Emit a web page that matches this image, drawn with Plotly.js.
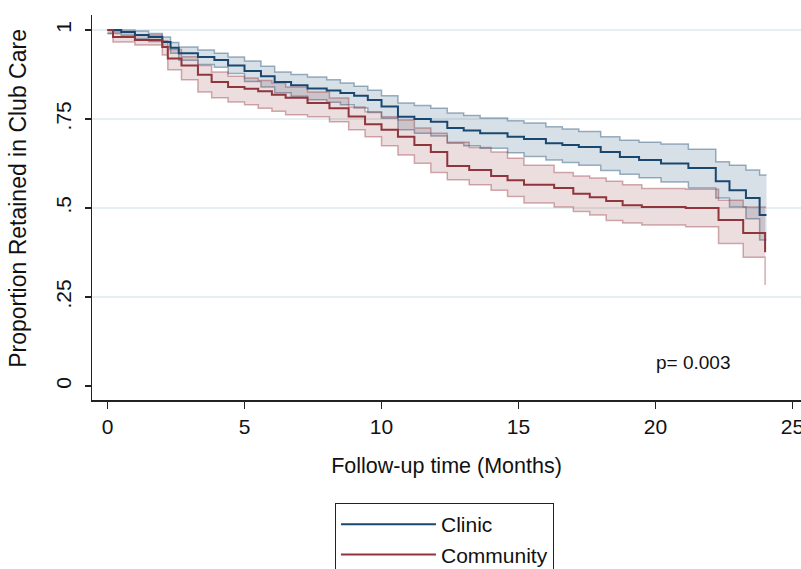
<!DOCTYPE html>
<html>
<head>
<meta charset="utf-8">
<script src="https://cdn.plot.ly/plotly-3.0.1.min.js"></script>
<style>html,body{margin:0;padding:0;background:#fff;}#chart{width:801px;height:569px;}</style>
</head>
<body>
<div id="chart"></div>
<script>
// ---- Data ----
const clinicTime = [0,0.5,1,1.5,2,2.3,2.6,3.3,3.9,4.4,5,5.6,6.1,6.7,7.3,8,8.5,9,9.5,10,10.6,11.2,11.8,12.4,13,13.6,14.6,15.2,16,16.6,17.2,18,18.7,19.4,20.2,21.2,22.2,22.7,23.3,23.8,24.05];
const clinicEst = [1.0,0.994,0.986,0.98,0.966,0.95,0.935,0.924,0.916,0.90,0.885,0.87,0.854,0.845,0.836,0.83,0.823,0.815,0.803,0.785,0.756,0.75,0.742,0.725,0.718,0.71,0.70,0.694,0.682,0.677,0.671,0.657,0.643,0.635,0.625,0.612,0.575,0.55,0.528,0.48,0.48];
const clinicUpper = [1.0,1.0,0.997,0.99,0.98,0.965,0.952,0.944,0.935,0.924,0.913,0.898,0.882,0.875,0.868,0.86,0.851,0.842,0.831,0.815,0.795,0.788,0.78,0.767,0.76,0.753,0.745,0.739,0.728,0.722,0.715,0.70,0.69,0.685,0.68,0.665,0.63,0.62,0.607,0.593,0.593];
const clinicLower = [0.99,0.985,0.975,0.968,0.952,0.935,0.915,0.903,0.895,0.878,0.855,0.84,0.824,0.814,0.804,0.797,0.79,0.781,0.768,0.752,0.72,0.71,0.702,0.682,0.675,0.668,0.655,0.645,0.635,0.628,0.62,0.605,0.595,0.585,0.573,0.556,0.528,0.503,0.47,0.41,0.41];

const communityTime = [0,0.2,1,2,2.2,2.7,3.3,3.8,4.4,5,5.5,6,6.5,7.3,8.1,8.8,9.4,10,10.6,11.2,11.8,12.4,13.2,14,14.6,15.2,16.3,17,17.6,18.2,18.8,19.5,21.1,22.3,23.2,24];
const communityEst = [1.0,0.98,0.972,0.952,0.92,0.90,0.874,0.854,0.84,0.835,0.828,0.818,0.81,0.795,0.78,0.757,0.735,0.72,0.70,0.677,0.657,0.618,0.607,0.59,0.578,0.565,0.556,0.54,0.53,0.52,0.508,0.503,0.50,0.466,0.43,0.376];
const communityUpper = [1.0,0.995,0.986,0.97,0.945,0.925,0.90,0.882,0.87,0.865,0.858,0.851,0.84,0.826,0.809,0.784,0.77,0.756,0.747,0.725,0.71,0.685,0.67,0.657,0.64,0.62,0.60,0.59,0.584,0.575,0.565,0.555,0.553,0.522,0.503,0.50];
const communityLower = [0.99,0.966,0.958,0.93,0.888,0.86,0.826,0.81,0.798,0.79,0.78,0.772,0.762,0.756,0.742,0.72,0.70,0.675,0.649,0.626,0.60,0.579,0.565,0.55,0.532,0.514,0.503,0.49,0.48,0.465,0.458,0.452,0.447,0.40,0.362,0.284];

const groupNames = ["Clinic","Community"];
const xTickVals = [0,5,10,15,20,25];
const xTickText = ["0","5","10","15","20","25"];
const yTickVals = [0,0.25,0.5,0.75,1];
const yTickText = ["0",".25",".5",".75","1"];
const xTitle = "Follow-up time (Months)";
const yTitle = "Proportion Retained in Club Care";
const pValueText = "p= 0.003";

// ---- Styles ----
const FONT = "Liberation Sans, Arial, sans-serif";
const clinicColor = "#1a476f", clinicBand = "rgba(26,71,111,0.17)", clinicEdge = "rgba(26,71,111,0.42)";
const commColor = "#90353b", commBand = "rgba(144,53,59,0.17)", commEdge = "rgba(144,53,59,0.40)";

function band(t, up, lo, fill, edge) {
  return [
    {x:t, y:up, type:"scatter", mode:"lines", line:{shape:"hv", color:edge, width:1.5}, showlegend:false, hoverinfo:"skip"},
    {x:t, y:lo, type:"scatter", mode:"lines", line:{shape:"hv", color:edge, width:1.5}, fill:"tonexty", fillcolor:fill, showlegend:false, hoverinfo:"skip"}
  ];
}

const data = [
  ...band(clinicTime, clinicUpper, clinicLower, clinicBand, clinicEdge),
  ...band(communityTime, communityUpper, communityLower, commBand, commEdge),
  {x:clinicTime, y:clinicEst, type:"scatter", mode:"lines", name:groupNames[0], line:{shape:"hv", color:clinicColor, width:2}},
  {x:communityTime, y:communityEst, type:"scatter", mode:"lines", name:groupNames[1], line:{shape:"hv", color:commColor, width:2}}
];

const layout = {
  width:801, height:569,
  margin:{l:92, r:0, t:15, b:169, autoexpand:false},
  paper_bgcolor:"#fff", plot_bgcolor:"#fff",
  font:{family:FONT, size:21, color:"#111"},
  xaxis:{
    range:[-0.566, 25.31], tickvals:xTickVals, ticktext:xTickText,
    ticks:"outside", ticklen:7, tickwidth:1.5, tickcolor:"#222",
    showline:true, linecolor:"#222", linewidth:1.5, showgrid:false, zeroline:false,
    ticklabeloverflow:"allow",
    tickfont:{size:21}, title:{text:xTitle, font:{size:21.5}, standoff:21}
  },
  yaxis:{
    range:[-0.0393, 1.0421], tickvals:yTickVals, ticktext:yTickText, tickangle:-90,
    ticks:"outside", ticklen:6, tickwidth:1.5, tickcolor:"#222",
    showline:true, linecolor:"#222", linewidth:1.5,
    showgrid:true, gridcolor:"#e6eff1", gridwidth:2,
    zeroline:true, zerolinecolor:"#fff", zerolinewidth:3,
    ticklabeloverflow:"allow", ticklabelstandoff:5,
    tickfont:{size:21}
  },
  legend:{
    x:0.3427, y:-0.2675, xanchor:"left", yanchor:"top", traceorder:"normal",
    bordercolor:"#222", borderwidth:1, bgcolor:"#fff",
    font:{size:21}, itemwidth:95, tracegroupgap:0
  },
  annotations:[
    {x:21.4, y:0.065, xref:"x", yref:"y", text:pValueText, showarrow:false, font:{size:19}},
    {x:-0.1044, y:0.525, xref:"paper", yref:"paper", xanchor:"center", yanchor:"middle", text:yTitle, textangle:-90, showarrow:false, font:{size:23}}
  ],
  showlegend:true
};

Plotly.newPlot("chart", data, layout, {staticPlot:true, displayModeBar:false});
</script>
</body>
</html>
